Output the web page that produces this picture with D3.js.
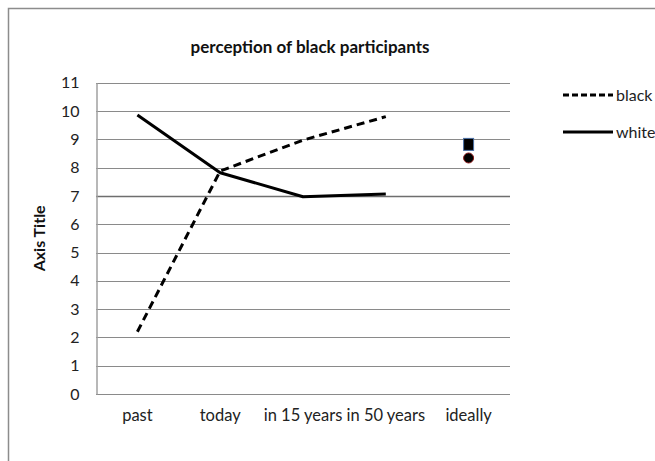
<!DOCTYPE html>
<html>
<head>
<meta charset="utf-8">
<script src="https://cdn.jsdelivr.net/npm/d3@7"></script>
<style>
  html, body { margin: 0; padding: 0; background: #fff; }
  svg { display: block; font-family: Lato, "Open Sans", sans-serif; }
</style>
</head>
<body>
<svg id="chart" width="655" height="461"></svg>
<script>
// Categories on the x axis
const categories = ["past", "today", "in 15 years", "in 50 years", "ideally"];
// Line series (time points only)
const blackValues = [2.2, 7.88, 8.97, 9.8];
const whiteValues = [9.86, 7.82, 6.97, 7.07];
// Separate "ideally" points
const blackIdeal = 8.82;
const whiteIdeal = 8.34;
// Y axis ticks
const yTicks = [0, 1, 2, 3, 4, 5, 6, 7, 8, 9, 10, 11];

const svg = d3.select("#chart");
const plot = { left: 96, right: 510, top: 82.7, bottom: 394 };

// Outer chart frame (extends past the window on the right and bottom)
svg.append("rect")
  .attr("x", 8.5).attr("y", 8.5)
  .attr("width", 700).attr("height", 500)
  .attr("fill", "#fff").attr("stroke", "#8c8c8c").attr("stroke-width", 1.5);

const x = d3.scaleBand().domain(categories).range([plot.left, plot.right]);
const y = d3.scaleLinear().domain([0, 11]).range([plot.bottom, plot.top]);

// Horizontal gridlines
svg.append("g")
  .selectAll("line")
  .data(yTicks)
  .join("line")
  .attr("x1", plot.left).attr("x2", plot.right)
  .attr("y1", d => Math.round(y(d)) + 0.5).attr("y2", d => Math.round(y(d)) + 0.5)
  .attr("stroke", d => d === 7 ? "#6e6e6e" : "#8a8a8a")
  .attr("stroke-width", d => d === 7 ? 1.6 : 1);

// Left axis with tick labels
const yAxis = d3.axisLeft(y).tickValues(yTicks).tickSize(0).tickPadding(17);
const gy = svg.append("g").attr("transform", `translate(${plot.left + 0.5},0)`).call(yAxis);
gy.select(".domain").attr("stroke", "#a0a0a0").attr("stroke-width", 1.5);
gy.selectAll("text").attr("font-size", 16).attr("fill", "#222")
  .attr("font-family", "Lato, sans-serif");

// Bottom axis labels
const xAxis = d3.axisBottom(x).tickSize(0).tickPadding(15);
const gx = svg.append("g").attr("transform", `translate(0,${plot.bottom})`).call(xAxis);
gx.select(".domain").remove();
gx.selectAll("text").attr("font-size", 16.5).attr("fill", "#222")
  .attr("font-family", "Lato, sans-serif");

// Line series
const cx = i => x(categories[i]) + x.bandwidth() / 2;
const line = d3.line().x((d, i) => cx(i)).y(d => y(d));

svg.append("path")
  .datum(whiteValues)
  .attr("d", line)
  .attr("fill", "none").attr("stroke", "#000").attr("stroke-width", 3)
  .attr("stroke-linejoin", "round");

svg.append("path")
  .datum(blackValues)
  .attr("d", line)
  .attr("fill", "none").attr("stroke", "#000").attr("stroke-width", 3)
  .attr("stroke-dasharray", "8,5");

// "ideally" markers
const ix = x("ideally") + x.bandwidth() / 2;
svg.append("rect")
  .attr("x", ix - 5).attr("y", y(blackIdeal) - 6)
  .attr("width", 10).attr("height", 12)
  .attr("fill", "#000").attr("stroke", "#4a6fa5").attr("stroke-width", 1);
svg.append("circle")
  .attr("cx", ix).attr("cy", y(whiteIdeal))
  .attr("r", 5)
  .attr("fill", "#000").attr("stroke", "#8b1a1a").attr("stroke-width", 1);

// Title
svg.append("text")
  .attr("x", 310).attr("y", 53)
  .attr("text-anchor", "middle")
  .attr("font-size", 17).attr("font-weight", "bold").attr("fill", "#111")
  .text("perception of black participants");

// Y axis title
svg.append("text")
  .attr("transform", `translate(45,${(plot.top + plot.bottom) / 2}) rotate(-90)`)
  .attr("text-anchor", "middle")
  .attr("font-size", 16).attr("font-weight", "bold").attr("fill", "#111")
  .text("Axis Title");

// Legend
const legend = [
  { name: "black", dash: "6,3", yPos: 95 },
  { name: "white", dash: null, yPos: 132 }
];
const lg = svg.append("g");
legend.forEach(d => {
  lg.append("line")
    .attr("x1", 563).attr("x2", 613)
    .attr("y1", d.yPos).attr("y2", d.yPos)
    .attr("stroke", "#000").attr("stroke-width", 3)
    .attr("stroke-dasharray", d.dash);
  lg.append("text")
    .attr("x", 616).attr("y", d.yPos + 5.5)
    .attr("font-size", 16).attr("fill", "#222")
    .text(d.name);
});
</script>
</body>
</html>
